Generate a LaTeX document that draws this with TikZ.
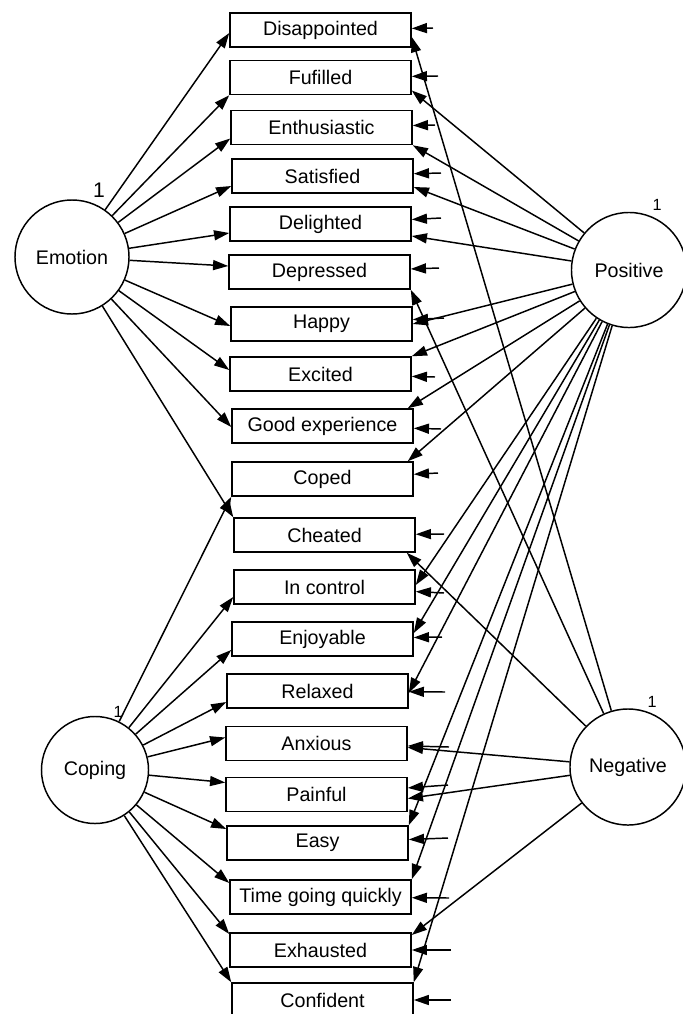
\documentclass[tikz,border=0pt]{standalone}
\usepackage{fontspec}
\setmainfont{Liberation Sans}
\usetikzlibrary{arrows.meta, calc}

\begin{document}
\begin{tikzpicture}[
x=0.025cm, y=-0.025cm,
every node/.style={align=center, font=\fontsize{14}{16}\selectfont},
arrow/.style={-{Triangle[length=3.8mm, width=2.5mm]}, line width=1.05pt}
]
\clip (0,0) rectangle (683,1014);

% Define styles
\tikzstyle{item} = [rectangle, draw=black, line width=1.05pt, minimum width=4.525cm, minimum height=0.85cm, inner sep=0pt]
\tikzstyle{factor} = [circle, draw=black, line width=1.05pt, inner sep=0pt]
\tikzstyle{unit} = [inner sep=0pt, font=\fontsize{11.5}{13}\selectfont]

% Latent factors
\node (emotion) [factor, minimum size=2.85cm] at (72,257) {Emotion};
\node (positive) [factor, minimum size=2.875cm] at (629,270) {Positive};
\node (coping) [factor, minimum size=2.675cm] at (95,770) {Coping};
\node (negative) [factor, minimum size=2.9cm] at (628,767) {Negative};

\node (uemotion) [unit, font=\fontsize{15}{17}\selectfont] at (99,190) {1};
\node (upositive) [unit] at (657,205) {1};
\node (ucoping) [unit] at (118,712) {1};
\node (unegative) [unit] at (652,702) {1};

% Items
\node (dis) [item] at (320.5,30) {Disappointed};
\node (ful) [item] at (320.5,77.5) {Fufilled};
\node (ent) [item] at (321.5,127.5) {Enthusiastic};
\node (sat) [item] at (322.5,176) {Satisfied};
\node (del) [item] at (320.5,224) {Delighted};
\node (dep) [item] at (319.5,272) {Depressed};
\node (hap) [item] at (321.5,324) {Happy};
\node (exc) [item] at (320.5,374) {Excited};
\node (goo) [item] at (322.5,426) {Good experience};
\node (cpd) [item] at (322.5,479) {Coped};
\node (che) [item] at (324.5,535) {Cheated};
\node (inc) [item] at (324.5,587) {In control};
\node (enj) [item] at (322.5,639) {Enjoyable};
\node (rel) [item] at (317.5,691) {Relaxed};
\node (anx) [item] at (316.5,743.5) {Anxious};
\node (pai) [item] at (316.5,794.5) {Painful};
\node (eas) [item] at (317.5,843) {Easy};
\node (tim) [item] at (320.5,897) {Time going quickly};
\node (exh) [item] at (320.5,950) {Exhausted};
\node (con) [item] at (322.5,1000) {Confident};

% Loadings
\foreach \n/\a/\dx/\dy in {dis/west/0/3, ful/south west/0/0, ent/west/0/11, sat/west/0/10,
  del/west/0/9, dep/west/0/-6, hap/west/0/2, exc/west/0/-4, goo/west/0/1, che/north west/0/0}
  \draw [arrow] (emotion) -- ($(\n.\a)+(\dx,\dy)$);

\foreach \n/\a/\dx/\dy in {cpd/south west/0/0, inc/west/0/10, enj/west/0/11, rel/west/0/11,
  anx/west/0/-6, pai/west/0/-12, eas/west/0/-14, tim/west/0/-14, exh/west/0/-16, con/north west/0/0}
  \draw [arrow] (coping) -- ($(\n.\a)+(\dx,\dy)$);

\foreach \n/\a/\dx/\dy in {ful/east/0/13, ent/south east/0/0, sat/east/0/11, del/east/0/12,
  hap/east/0/0, exc/north east/0/0, goo/north east/-6/0, cpd/north east/-6/0, inc/east/0/-2,
  enj/east/0/-6, rel/east/0/2, eas/north east/0/0, tim/north east/0/0, con/north east/0/0}
  \draw [arrow] (positive) -- ($(\n.\a)+(\dx,\dy)$);

\foreach \n/\a/\dx/\dy in {dis/east/0/7, dep/south east/0/0, che/south east/-9/0,
  anx/east/0/4, pai/east/0/4, exh/east/0/-15}
  \draw [arrow] (negative) -- ($(\n.\a)+(\dx,\dy)$);

% Error terms
\foreach \n/\x/\y in {dis/433/28, ful/438/76, ent/435/125, sat/441/173, del/441/218,
  dep/439/268, hap/444/318, exc/435/377, goo/441/429, cpd/438/473, che/444/534,
  inc/444/593, enj/442/637, rel/445/692, anx/449/747, pai/448/785, eas/448/838,
  tim/449/898, exh/451/950, con/451/1000}
{
  \coordinate (e\n) at (\x,\y);
  \draw [arrow] (e\n) -- (\n);
}

\end{tikzpicture}
\end{document}
